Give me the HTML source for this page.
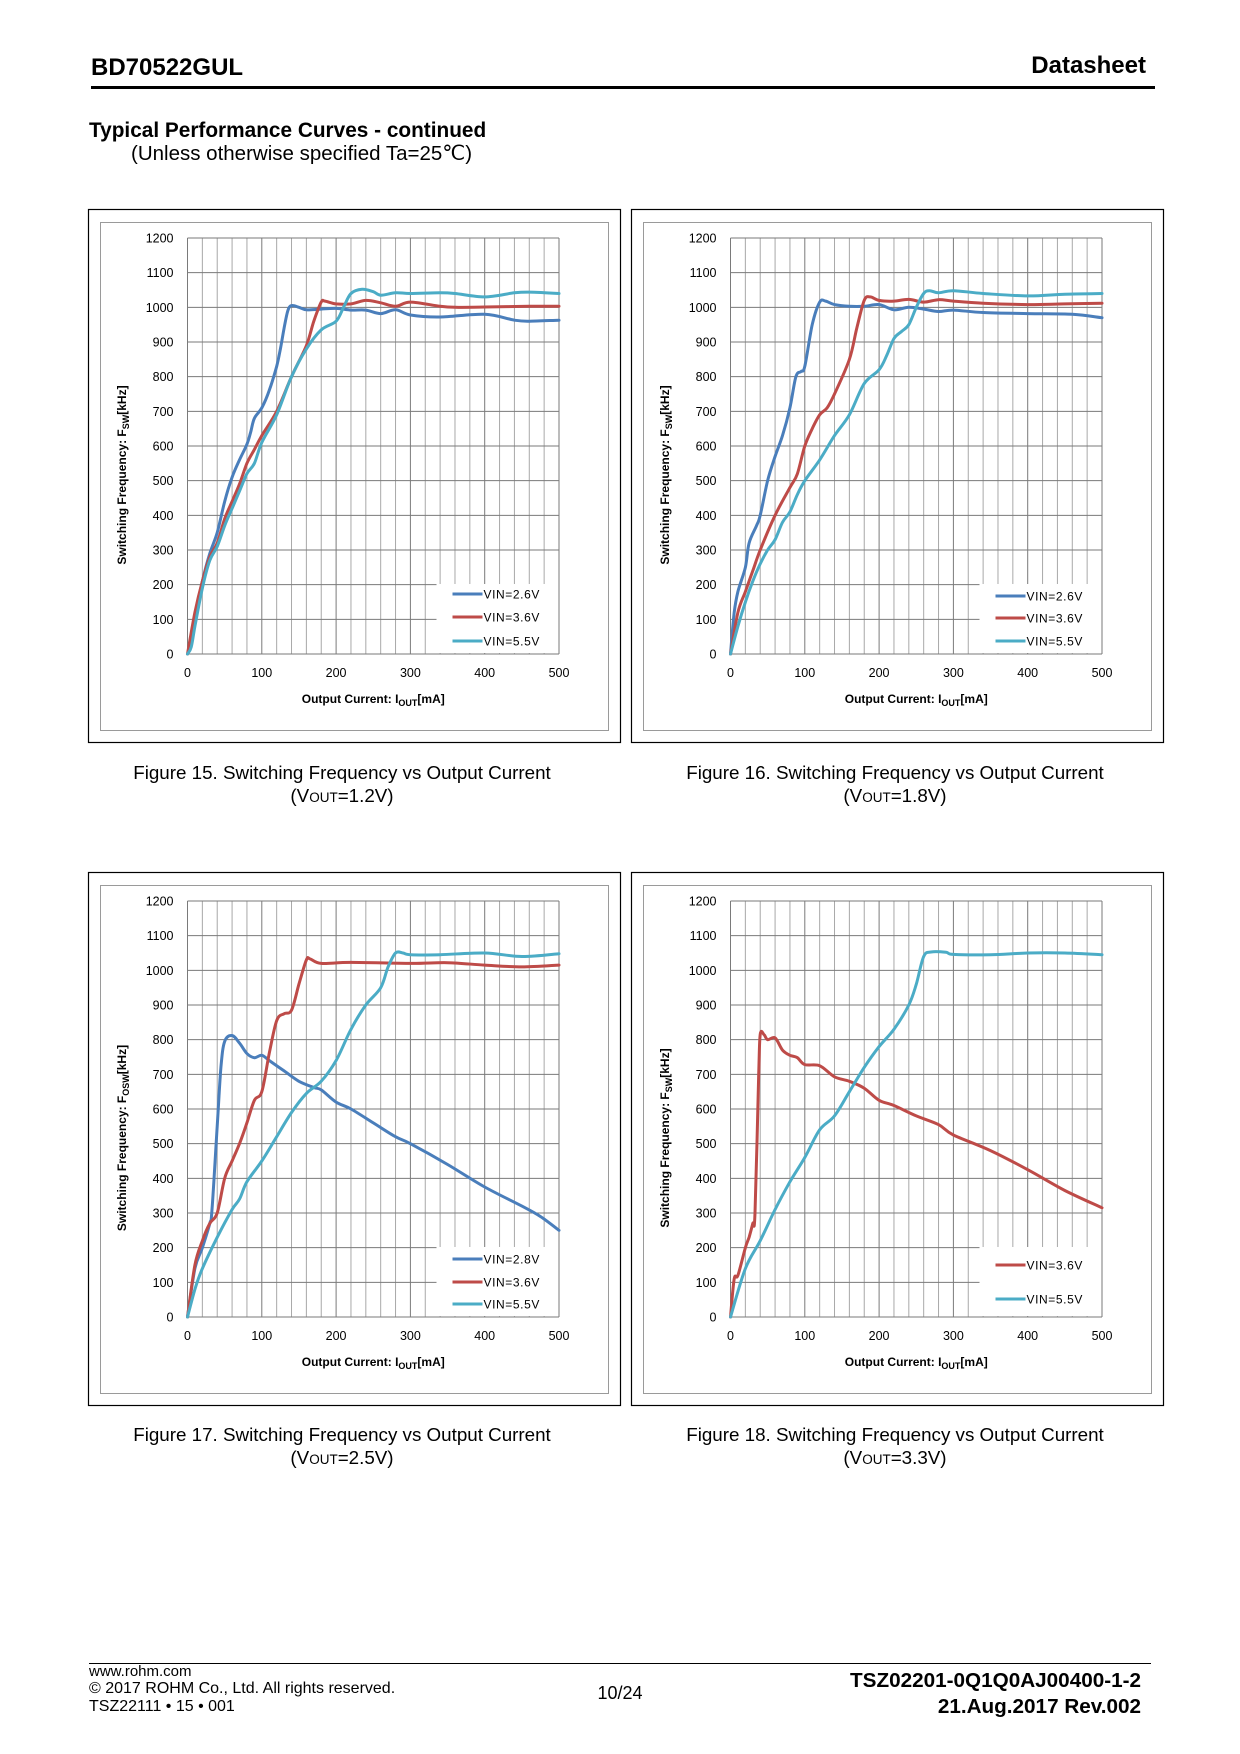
<!DOCTYPE html>
<html><head><meta charset="utf-8"><style>
html,body{margin:0;padding:0;background:#fff}
svg{display:block}
text{font-family:"Liberation Sans",sans-serif;fill:#000}
</style></head><body>
<svg id="page" width="1240" height="1754" viewBox="0 0 1240 1754" xmlns="http://www.w3.org/2000/svg">
<text x="91" y="75" font-size="24" font-weight="bold">BD70522GUL</text>
<text x="1146" y="73" font-size="24" font-weight="bold" text-anchor="end">Datasheet</text>
<rect x="91" y="86" width="1064" height="3" fill="#000"/>
<text x="89" y="137" font-size="20.8" font-weight="bold">Typical Performance Curves - continued</text>
<text x="131" y="160" font-size="20.5">(Unless otherwise specified Ta=25℃)</text>

<text x="342" y="779" font-size="18.8" text-anchor="middle">Figure 15. Switching Frequency vs Output Current</text>
<text x="342" y="802" font-size="18.8" text-anchor="middle">(V<tspan font-size="13.5">OUT</tspan>=1.2V)</text>
<text x="895" y="779" font-size="18.8" text-anchor="middle">Figure 16. Switching Frequency vs Output Current</text>
<text x="895" y="802" font-size="18.8" text-anchor="middle">(V<tspan font-size="13.5">OUT</tspan>=1.8V)</text>
<text x="342" y="1441" font-size="18.8" text-anchor="middle">Figure 17. Switching Frequency vs Output Current</text>
<text x="342" y="1464" font-size="18.8" text-anchor="middle">(V<tspan font-size="13.5">OUT</tspan>=2.5V)</text>
<text x="895" y="1441" font-size="18.8" text-anchor="middle">Figure 18. Switching Frequency vs Output Current</text>
<text x="895" y="1464" font-size="18.8" text-anchor="middle">(V<tspan font-size="13.5">OUT</tspan>=3.3V)</text>

<rect x="89" y="1663" width="1062" height="1" fill="#000"/>
<text x="89" y="1676" font-size="15">www.rohm.com</text>
<text x="89" y="1693" font-size="16">© 2017 ROHM Co., Ltd. All rights reserved.</text>
<text x="89" y="1711" font-size="16">TSZ22111 • 15 • 001</text>
<text x="620" y="1699" font-size="18" text-anchor="middle">10/24</text>
<text x="1141" y="1687" font-size="20.7" font-weight="bold" text-anchor="end">TSZ02201-0Q1Q0AJ00400-1-2</text>
<text x="1141" y="1713" font-size="20.7" font-weight="bold" text-anchor="end">21.Aug.2017 Rev.002</text>
<g id="charts"></g>
</svg>
<script>
// ---- shared axis data ----
const xTicks = [0,100,200,300,400,500];
const yTicks = [0,100,200,300,400,500,600,700,800,900,1000,1100,1200];

// ---- Figure 15 ----
const f15BlueX = [0,5,10,20,30,40,50,60,70,80,85,90,100,110,120,125,130,135,140,150,160,180,200,220,240,260,280,300,340,400,440,460,500];
const f15BlueY = [0,30,110,210,290,350,440,510,560,605,640,680,710,760,830,880,940,990,1005,1000,993,995,997,992,992,982,993,978,972,980,963,960,963];
const f15RedX = [0,10,20,30,40,50,60,70,80,90,100,120,140,160,170,180,185,200,220,240,260,280,300,340,360,400,460,500];
const f15RedY = [0,120,210,280,320,390,440,490,550,590,630,700,800,890,960,1015,1018,1010,1010,1020,1013,1003,1015,1003,1000,1001,1003,1003];
const f15CyanX = [0,5,10,20,30,40,50,60,70,80,90,100,120,140,160,180,200,210,220,235,250,260,280,300,340,360,400,440,460,500];
const f15CyanY = [0,20,80,190,270,310,370,420,470,520,550,610,690,800,880,935,960,1000,1040,1052,1045,1035,1042,1040,1042,1040,1030,1042,1044,1040];

// ---- Figure 16 ----
const f16BlueX = [0,5,10,20,25,35,40,50,60,70,80,88,95,100,110,120,128,140,160,180,200,220,240,260,280,300,340,400,460,500];
const f16BlueY = [0,120,180,250,320,370,400,500,570,630,710,800,815,830,950,1015,1018,1008,1003,1003,1008,993,1000,995,988,992,985,982,980,970];
const f16RedX = [0,10,20,30,40,60,80,90,100,110,120,130,140,160,170,180,188,200,220,240,260,280,300,340,400,450,500];
const f16RedY = [0,120,180,240,300,400,480,520,600,650,690,710,750,850,940,1020,1030,1020,1018,1023,1015,1022,1018,1012,1008,1010,1012];
const f16CyanX = [0,10,20,30,40,50,60,70,80,90,100,120,140,160,180,200,210,220,230,240,250,260,268,280,300,340,400,450,500];
const f16CyanY = [0,80,150,210,260,300,330,380,410,460,500,560,630,690,780,820,860,910,930,950,1000,1040,1048,1042,1048,1040,1033,1038,1040];

// ---- Figure 17 ----
const f17BlueX = [0,10,20,30,33,40,45,50,60,70,80,90,100,110,130,150,170,180,200,220,250,280,300,350,400,450,475,500];
const f17BlueY = [0,140,200,270,310,550,720,795,812,790,760,748,755,740,710,680,662,655,620,600,560,520,500,440,375,320,290,250];
const f17RedX = [0,10,20,30,40,50,60,70,80,90,100,110,120,130,140,150,160,165,180,220,300,350,400,450,500];
const f17RedY = [0,150,220,270,300,400,450,500,560,625,650,760,855,875,885,960,1030,1033,1020,1023,1020,1022,1015,1010,1015];
const f17CyanX = [0,10,20,40,60,70,80,100,120,140,160,180,200,220,240,260,270,280,290,300,340,400,450,500];
const f17CyanY = [0,80,140,230,310,340,390,450,520,590,645,680,740,830,900,950,1010,1050,1050,1045,1045,1050,1040,1048];

// ---- Figure 18 ----
const f18RedX = [0,5,10,20,25,30,33,38,40,45,50,60,70,80,90,100,120,140,160,180,200,220,250,280,300,350,400,450,500];
const f18RedY = [0,110,120,200,230,270,300,700,815,815,800,805,770,755,748,728,725,693,680,660,625,610,580,555,525,480,425,365,315];
const f18CyanX = [0,20,40,60,80,100,120,140,160,180,200,220,240,250,260,270,290,300,350,400,450,500];
const f18CyanY = [0,140,220,310,390,460,540,580,650,720,780,830,900,960,1040,1053,1052,1046,1045,1050,1050,1045];

const BLUE = '#4a7ebb', RED = '#be4b48', CYAN = '#4bacc6';
const NS = 'http://www.w3.org/2000/svg';
const root = document.getElementById('charts');

function mk(tag, parent, attrs) {
  const e = document.createElementNS(NS, tag);
  for (const k in attrs) e.setAttribute(k, attrs[k]);
  parent.appendChild(e);
  return e;
}

function smoothPath(pts) {
  let d = 'M' + pts[0][0].toFixed(1) + ',' + pts[0][1].toFixed(1);
  for (let i = 0; i < pts.length - 1; i++) {
    const p0 = pts[i - 1] || pts[i], p1 = pts[i], p2 = pts[i + 1], p3 = pts[i + 2] || p2;
    const c1x = p1[0] + (p2[0] - p0[0]) / 6, c1y = p1[1] + (p2[1] - p0[1]) / 6;
    const c2x = p2[0] - (p3[0] - p1[0]) / 6, c2y = p2[1] - (p3[1] - p1[1]) / 6;
    d += ' C' + c1x.toFixed(1) + ',' + c1y.toFixed(1) + ' ' + c2x.toFixed(1) + ',' + c2y.toFixed(1) + ' ' + p2[0].toFixed(1) + ',' + p2[1].toFixed(1);
  }
  return d;
}

function drawChart(id, dx, dy, sub, series) {
  const g = mk('g', root, {});
  
  
  const X0 = 187.5 + dx, X1 = 559 + dx, Y0 = 654 + dy, Y1 = 238 + dy;
  const sx = v => X0 + (X1 - X0) * v / 500;
  const sy = v => Y0 - (Y0 - Y1) * v / 1200;

  const outer = mk('rect', g, {x: 88.5 + dx, y: 209.5 + dy, width: 532, height: 533, fill: '#fff', stroke: '#000', 'stroke-width': 1.2});
  
  
  const inner = mk('rect', g, {x: 100.5 + dx, y: 222.5 + dy, width: 508, height: 508, fill: 'none', stroke: '#9a9a9a', 'stroke-width': 1});
  
  

  for (let v = 0; v <= 500; v += 20) {
    const ln = mk('line', g, {x1: sx(v), x2: sx(v), y1: Y1, y2: Y0, stroke: v % 100 === 0 ? '#7a7a7a' : '#a8a8a8', 'stroke-width': 1});
    
    
  }
  yTicks.forEach(v => {
    const ln = mk('line', g, {x1: X0, x2: X1, y1: sy(v), y2: sy(v), stroke: '#7a7a7a', 'stroke-width': 1});
    
    
    const t = mk('text', g, {x: X0 - 14, y: sy(v) + 4.5, 'font-size': 12.5, 'text-anchor': 'end'});
    t.textContent = v;
    
    
  });
  xTicks.forEach(v => {
    const t = mk('text', g, {x: sx(v), y: Y0 + 23, 'font-size': 12.5, 'text-anchor': 'middle'});
    t.textContent = v;
    
    
  });
  const lb = mk('rect', g, {x: X0 + 249, y: Y0 - 70, width: X1 - X0 - 249, height: 69, fill: '#fff'});
  
  
  mk('line', g, {x1: X1, x2: X1, y1: Y1, y2: Y0, stroke: '#7a7a7a'});
  mk('line', g, {x1: X0, x2: X1, y1: Y0, y2: Y0, stroke: '#7a7a7a'});
  mk('line', g, {x1: X0, x2: X0, y1: Y1, y2: Y0, stroke: '#7a7a7a'});

  const xt = mk('text', g, {x: (X0 + X1) / 2, y: Y0 + 49, 'font-size': 12, 'font-weight': 'bold', 'text-anchor': 'middle'});
  xt.innerHTML = 'Output Current: I<tspan font-size="9" dy="3">OUT</tspan><tspan dy="-3">[mA]</tspan>';
  
  
  const cy = (Y0 + Y1) / 2 + 29, cx = 126 + dx;
  const yt = mk('text', g, {x: cx, y: cy, 'font-size': 12, 'font-weight': 'bold', 'text-anchor': 'middle', transform: 'rotate(-90 ' + cx + ' ' + cy + ')'});
  yt.innerHTML = 'Switching Frequency: F<tspan font-size="9" dy="3">' + sub + '</tspan><tspan dy="-3">[kHz]</tspan>';
  
  

  series.forEach(s => {
    const pts = s.x.map((v, i) => [sx(v), sy(s.y[i])]);
    const p = mk('path', g, {d: smoothPath(pts), fill: 'none', stroke: s.color, 'stroke-width': 3, 'stroke-linejoin': 'round', 'stroke-linecap': 'round'});
    
    
    const ly = Y0 + s.ly;
    const ll = mk('line', g, {x1: X0 + 265, x2: X0 + 295, y1: ly, y2: ly, stroke: s.color, 'stroke-width': 3});
    
    
    const lt = mk('text', g, {x: X0 + 296, y: ly + 4.5, 'font-size': 12, 'letter-spacing': 0.6});
    lt.textContent = s.label;
    
    
  });
}

drawChart('chart-fig15', 0, 0, 'SW', [
  {key: 'vin-2-6', label: 'VIN=2.6V', color: BLUE, x: f15BlueX, y: f15BlueY, ly: -60},
  {key: 'vin-3-6', label: 'VIN=3.6V', color: RED, x: f15RedX, y: f15RedY, ly: -37},
  {key: 'vin-5-5', label: 'VIN=5.5V', color: CYAN, x: f15CyanX, y: f15CyanY, ly: -13}
]);
drawChart('chart-fig16', 543, 0, 'SW', [
  {key: 'vin-2-6', label: 'VIN=2.6V', color: BLUE, x: f16BlueX, y: f16BlueY, ly: -58},
  {key: 'vin-3-6', label: 'VIN=3.6V', color: RED, x: f16RedX, y: f16RedY, ly: -36},
  {key: 'vin-5-5', label: 'VIN=5.5V', color: CYAN, x: f16CyanX, y: f16CyanY, ly: -13}
]);
drawChart('chart-fig17', 0, 663, 'OSW', [
  {key: 'vin-2-8', label: 'VIN=2.8V', color: BLUE, x: f17BlueX, y: f17BlueY, ly: -58},
  {key: 'vin-3-6', label: 'VIN=3.6V', color: RED, x: f17RedX, y: f17RedY, ly: -35},
  {key: 'vin-5-5', label: 'VIN=5.5V', color: CYAN, x: f17CyanX, y: f17CyanY, ly: -13}
]);
drawChart('chart-fig18', 543, 663, 'SW', [
  {key: 'vin-3-6', label: 'VIN=3.6V', color: RED, x: f18RedX, y: f18RedY, ly: -52},
  {key: 'vin-5-5', label: 'VIN=5.5V', color: CYAN, x: f18CyanX, y: f18CyanY, ly: -18}
]);
</script>
</body></html>
